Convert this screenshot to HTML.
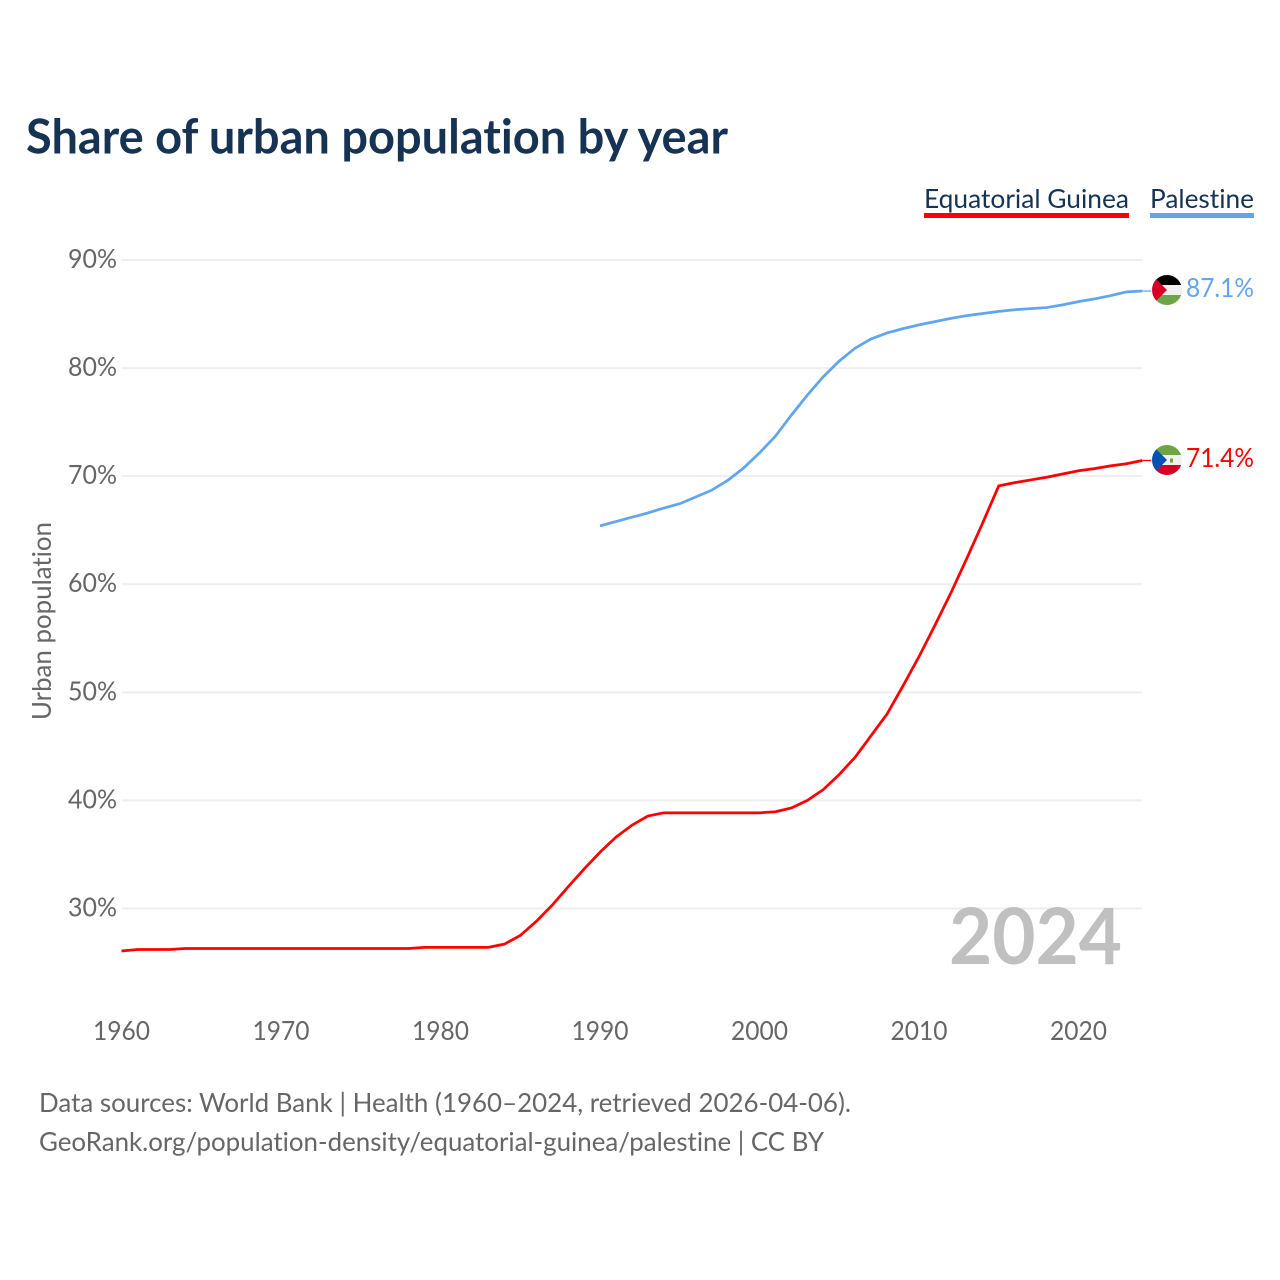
<!DOCTYPE html>
<html lang="en">
<head>
<meta charset="utf-8">
<title>Share of urban population by year</title>
<style>
html,body{margin:0;padding:0;background:#fff;}
svg{display:block;}
text{font-family:"Lato","Carlito","Liberation Sans",sans-serif;font-variant-ligatures:none;font-feature-settings:"liga" 0,"clig" 0;}
</style>
</head>
<body>
<svg id="chart" width="1280" height="1280" viewBox="0 0 1280 1280" xmlns="http://www.w3.org/2000/svg">
  <defs>
    <clipPath id="flag-clip-ps"><circle cx="1167" cy="290" r="15"/></clipPath>
    <clipPath id="flag-clip-gq"><circle cx="1167" cy="460" r="15"/></clipPath>
  </defs>
  <rect x="0" y="0" width="1280" height="1280" fill="#ffffff"/>
  <text x="26" y="153.5" font-size="47.5" font-weight="700" fill="#163354" textLength="702" lengthAdjust="spacingAndGlyphs">Share of urban population by year</text>
  <g id="grid"></g>
  <g id="y-ticks"></g>
  <g id="x-ticks"></g>
  <text transform="translate(51,621) rotate(-90)" text-anchor="middle" font-size="26" fill="#666666" textLength="198" lengthAdjust="spacingAndGlyphs">Urban population</text>
  <text x="1122" y="964" text-anchor="end" font-size="78" font-weight="700" fill="#c0c0c0" textLength="173" lengthAdjust="spacingAndGlyphs">2024</text>
  <g id="lines"></g>

  <g>
    <text x="924" y="208" font-size="26.5" fill="#163354" textLength="205" lengthAdjust="spacingAndGlyphs">Equatorial Guinea</text>
    <rect x="924" y="213" width="205" height="5" fill="#ff0000"/>
  </g>
  <g>
    <text x="1150" y="208" font-size="26.5" fill="#163354" textLength="104" lengthAdjust="spacingAndGlyphs">Palestine</text>
    <rect x="1150" y="213" width="104" height="5" fill="#60a5ee"/>
  </g>

  <g clip-path="url(#flag-clip-ps)">
    <rect x="1152" y="275" width="30" height="10" fill="#000000"/>
    <rect x="1152" y="285" width="30" height="10" fill="#f0f0f0"/>
    <rect x="1152" y="295" width="30" height="10" fill="#6da544"/>
    <polygon points="1152,275 1167,290 1152,305" fill="#d80027"/>
  </g>
  <g clip-path="url(#flag-clip-gq)">
    <rect x="1152" y="445" width="30" height="10" fill="#6da544"/>
    <rect x="1152" y="455" width="30" height="10" fill="#f0f0f0"/>
    <rect x="1152" y="465" width="30" height="10" fill="#d80027"/>
    <polygon points="1152,445 1167,460 1152,475" fill="#0052b4"/>
    <rect x="1170" y="458.5" width="3" height="4" fill="#6da544"/>
  </g>
  <text id="end-label-ps" x="1254" y="297" text-anchor="end" font-size="26.5" fill="#60a5ee" textLength="68" lengthAdjust="spacingAndGlyphs"></text>
  <text id="end-label-gq" x="1254" y="467" text-anchor="end" font-size="26.5" fill="#ff0000" textLength="68" lengthAdjust="spacingAndGlyphs"></text>

  <text x="39" y="1112" font-size="26.5" fill="#666666" textLength="812" lengthAdjust="spacingAndGlyphs">Data sources: World Bank | Health (1960–2024, retrieved 2026-04-06).</text>
  <text x="39" y="1151" font-size="26.5" fill="#666666" textLength="785" lengthAdjust="spacingAndGlyphs">GeoRank.org/population-density/equatorial-guinea/palestine | CC BY</text>
</svg>
<script>
const yTickValues = [30, 40, 50, 60, 70, 80, 90];
const xTickValues = [1960, 1970, 1980, 1990, 2000, 2010, 2020];
const redStartYear = 1960;
const redValues = [26.07, 26.2, 26.2, 26.2, 26.3, 26.3, 26.3, 26.3, 26.3, 26.3, 26.3, 26.3, 26.3, 26.3, 26.3, 26.3, 26.3, 26.3, 26.3, 26.4, 26.4, 26.4, 26.4, 26.4, 26.7, 27.5, 28.8, 30.3, 32, 33.65, 35.2, 36.6, 37.7, 38.55, 38.85, 38.85, 38.85, 38.85, 38.85, 38.85, 38.85, 38.95, 39.3, 40, 41, 42.4, 44, 46, 48, 50.6, 53.3, 56.2, 59.2, 62.4, 65.7, 69.1, 69.4, 69.65, 69.9, 70.2, 70.5, 70.7, 70.95, 71.15, 71.45];
const blueStartYear = 1990;
const blueValues = [65.4, 65.8, 66.2, 66.6, 67.05, 67.45, 68.07, 68.7, 69.6, 70.75, 72.15, 73.7, 75.65, 77.5, 79.2, 80.65, 81.85, 82.7, 83.25, 83.65, 84, 84.3, 84.6, 84.85, 85.05, 85.25, 85.4, 85.5, 85.6, 85.85, 86.15, 86.4, 86.7, 87.05, 87.13];
const redEndLabel = "71.4%";
const blueEndLabel = "87.1%";

const NS = "http://www.w3.org/2000/svg";
function xScale(year) { return 121.5 + (year - 1960) * 15.95; }
function yScale(value) { return 260 + (90 - value) * 10.808; }

const grid = document.getElementById("grid");
const yTicks = document.getElementById("y-ticks");
const xTicks = document.getElementById("x-ticks");
const lines = document.getElementById("lines");

yTickValues.forEach(function (v) {
  const gridline = document.createElementNS(NS, "line");
  
  
  gridline.setAttribute("x1", 122);
  gridline.setAttribute("x2", 1142);
  gridline.setAttribute("y1", yScale(v));
  gridline.setAttribute("y2", yScale(v));
  gridline.setAttribute("stroke", "#eeeeee");
  gridline.setAttribute("stroke-width", 2);
  grid.appendChild(gridline);

  const label = document.createElementNS(NS, "text");
  
  
  label.setAttribute("x", 117);
  label.setAttribute("y", yScale(v) + 8);
  label.setAttribute("text-anchor", "end");
  label.setAttribute("font-size", 26);
  label.setAttribute("fill", "#666666");
  label.setAttribute("textLength", 49);
  label.setAttribute("lengthAdjust", "spacingAndGlyphs");
  label.textContent = v + "%";
  yTicks.appendChild(label);
});

xTickValues.forEach(function (year) {
  const label = document.createElementNS(NS, "text");
  
  
  label.setAttribute("x", xScale(year));
  label.setAttribute("y", 1040);
  label.setAttribute("text-anchor", "middle");
  label.setAttribute("font-size", 26);
  label.setAttribute("fill", "#666666");
  label.setAttribute("textLength", 57);
  label.setAttribute("lengthAdjust", "spacingAndGlyphs");
  label.textContent = year;
  xTicks.appendChild(label);
});

function seriesPoints(values, startYear) {
  return values.map(function (v, i) {
    return xScale(startYear + i).toFixed(2) + "," + yScale(v).toFixed(2);
  }).join(" ");
}

function tailY(values) {
  return yScale(values[values.length - 1]);
}

const redLine = document.createElementNS(NS, "polyline");


redLine.setAttribute("points", seriesPoints(redValues, redStartYear));
redLine.setAttribute("fill", "none");
redLine.setAttribute("stroke", "#ff0000");
redLine.setAttribute("stroke-width", 2.75);
lines.appendChild(redLine);

const redTail = document.createElementNS(NS, "line");


redTail.setAttribute("x1", xScale(2024));
redTail.setAttribute("x2", xScale(2024) + 9);
redTail.setAttribute("y1", tailY(redValues));
redTail.setAttribute("y2", tailY(redValues));
redTail.setAttribute("stroke", "#ff0000");
redTail.setAttribute("stroke-width", 1.25);
lines.appendChild(redTail);

const blueLine = document.createElementNS(NS, "polyline");


blueLine.setAttribute("points", seriesPoints(blueValues, blueStartYear));
blueLine.setAttribute("fill", "none");
blueLine.setAttribute("stroke", "#60a5ee");
blueLine.setAttribute("stroke-width", 2.75);
lines.appendChild(blueLine);

const blueTail = document.createElementNS(NS, "line");


blueTail.setAttribute("x1", xScale(2024));
blueTail.setAttribute("x2", xScale(2024) + 9);
blueTail.setAttribute("y1", tailY(blueValues));
blueTail.setAttribute("y2", tailY(blueValues));
blueTail.setAttribute("stroke", "#60a5ee");
blueTail.setAttribute("stroke-width", 1.25);
lines.appendChild(blueTail);

document.getElementById("end-label-ps").textContent = blueEndLabel;
document.getElementById("end-label-gq").textContent = redEndLabel;
</script>
</body>
</html>
